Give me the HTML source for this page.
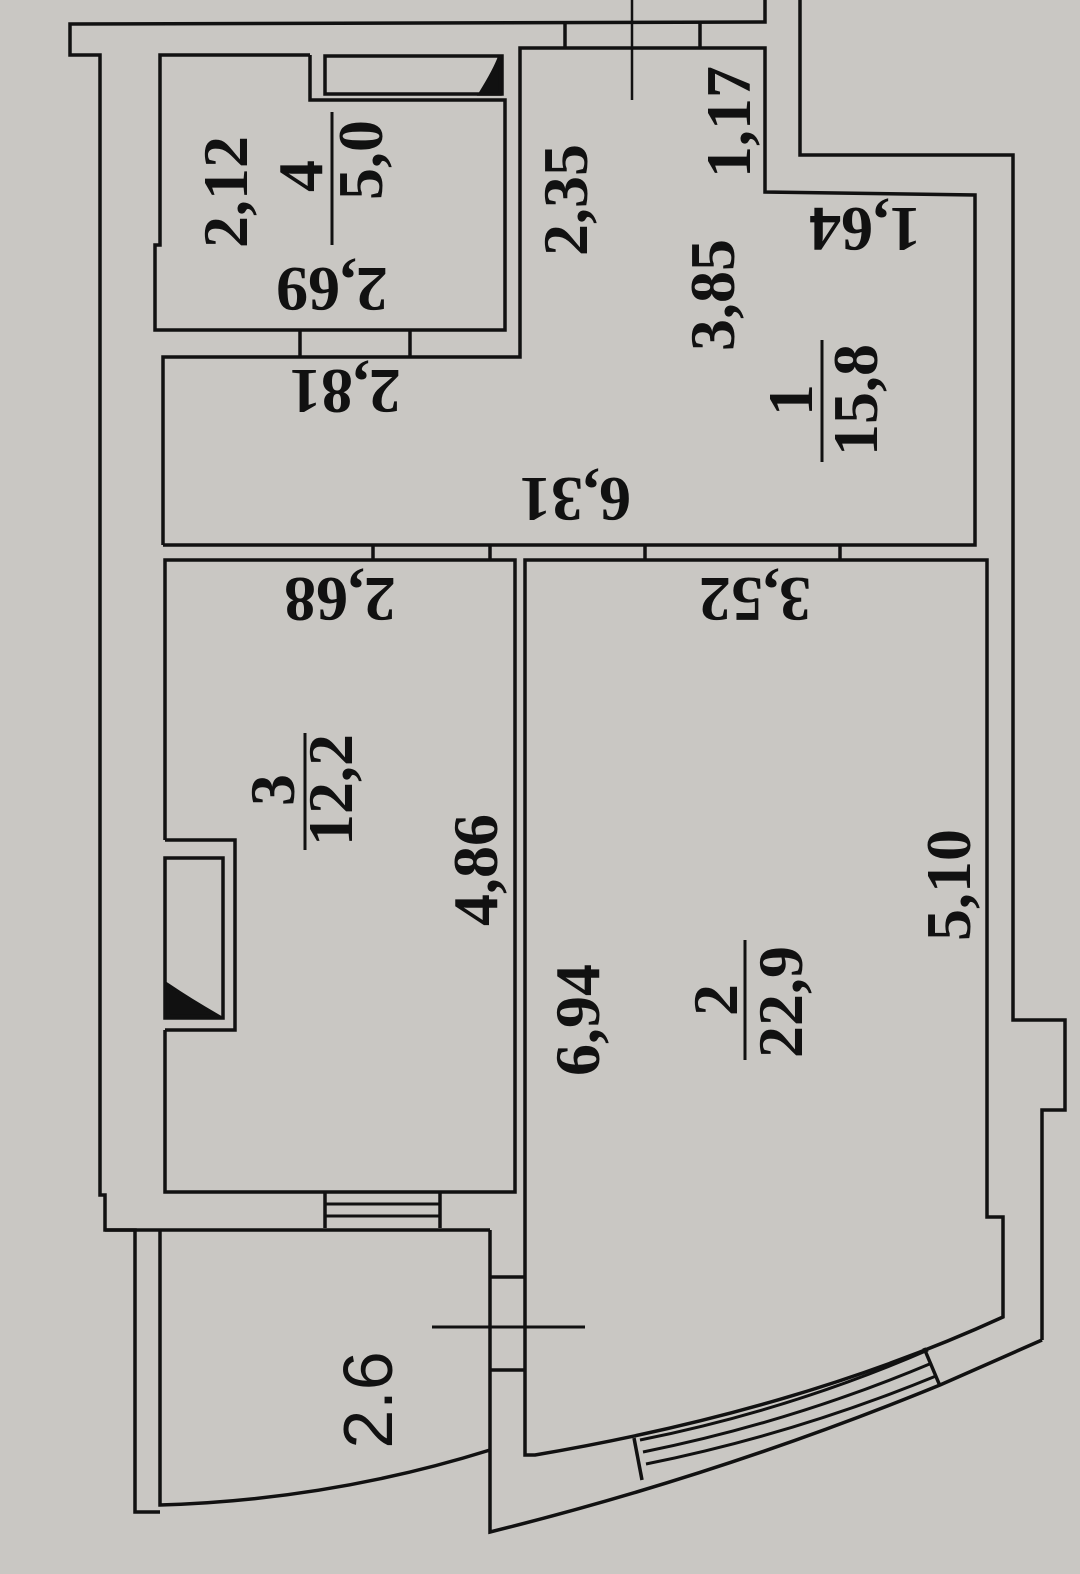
<!DOCTYPE html>
<html><head><meta charset="utf-8"><style>
html,body{margin:0;padding:0;background:#c9c7c3;}
svg{display:block}
text{font-family:"Liberation Serif",serif;font-weight:bold;fill:#111;font-size:64px}
</style></head><body>
<svg width="1080" height="1574" viewBox="0 0 1080 1574">
<rect width="1080" height="1574" fill="#c9c7c3"/>
<g fill="none" stroke="#111" stroke-width="3.5" stroke-linejoin="miter">
<polyline points="765,0 765,22 70,24 70,55 100,55 100,1195 105,1195 105,1230 135,1230 135,1512 160,1512"/>
<polyline points="310,55 160,55 160,245 155,245 155,330 505,330 505,100 310,100 310,55"/>
<rect x="325" y="56" width="177" height="38"/>
<path d="M480,94 Q495,70 500,56 L500,94 Z" fill="#111"/>
<polyline points="163,545 163,357 520,357 520,48 765,48 765,192 975,195 975,545 163,545"/>
<line x1="565" y1="22" x2="565" y2="48"/><line x1="700" y1="22" x2="700" y2="48"/>
<line x1="632" y1="0" x2="632" y2="100" stroke-width="2.5"/>
<line x1="300" y1="330" x2="300" y2="357"/><line x1="410" y1="330" x2="410" y2="357"/>
<polyline points="800,0 800,155 1013,155 1013,1020 1065,1020 1065,1110 1042,1110 1042,1340"/>
<path d="M1042,1340 L940,1385 Q720,1475 490,1532 L490,1230"/>
<line x1="373" y1="545" x2="373" y2="560"/><line x1="490" y1="545" x2="490" y2="560"/>
<line x1="645" y1="545" x2="645" y2="560"/><line x1="840" y1="545" x2="840" y2="560"/>
<polyline points="165,840 165,560 515,560 515,1192 165,1192 165,1030"/>
<polyline points="165,840 235,840 235,1030 165,1030"/>
<rect x="165" y="858" width="58" height="160"/>
<path d="M168,1016 L168,985 Q190,1000 218,1016 Z" fill="#111"/>
<line x1="325" y1="1192" x2="325" y2="1228"/><line x1="440" y1="1192" x2="440" y2="1228"/>
<line x1="325" y1="1204" x2="440" y2="1204" stroke-width="3"/><line x1="325" y1="1216" x2="440" y2="1216" stroke-width="3"/>
<polyline points="105,1230 490,1230"/>
<path d="M160,1230 L160,1505 Q330,1500 490,1450"/>
<path d="M525,1455 L525,560 L987,560 L987,1217 L1003,1217 L1003,1317 Q800,1410 535,1455 Z"/>
<line x1="490" y1="1277" x2="525" y2="1277"/><line x1="490" y1="1370" x2="525" y2="1370"/>
<line x1="432" y1="1327" x2="585" y2="1327" stroke-width="3"/>
<path d="M640,1440 Q790,1410 928,1350" stroke-width="3"/>
<path d="M643,1452 Q792,1422 932,1363" stroke-width="3"/>
<path d="M646,1464 Q795,1434 936,1376" stroke-width="3"/>
<line x1="634" y1="1438" x2="642" y2="1480"/><line x1="924" y1="1348" x2="940" y2="1386"/>
</g>
<g>
<text transform="translate(247,192) rotate(-90)" text-anchor="middle">2,12</text>
<text transform="translate(322,176) rotate(-90)" text-anchor="middle">4</text>
<line x1="332" y1="112" x2="332" y2="245" stroke="#111" stroke-width="3"/>
<text transform="translate(382,160) rotate(-90)" text-anchor="middle">5,0</text>
<text transform="translate(587,200) rotate(-90)" text-anchor="middle">2,35</text>
<text transform="translate(750,122) rotate(-90)" text-anchor="middle">1,17</text>
<text transform="translate(734,295) rotate(-90)" text-anchor="middle">3,85</text>
<text transform="translate(812,400) rotate(-90)" text-anchor="middle">1</text>
<line x1="822" y1="340" x2="822" y2="462" stroke="#111" stroke-width="3"/>
<text transform="translate(877,400) rotate(-90)" text-anchor="middle">15,8</text>
<text transform="translate(294,790) rotate(-90)" text-anchor="middle">3</text>
<line x1="305" y1="733" x2="305" y2="850" stroke="#111" stroke-width="3"/>
<text transform="translate(352,790) rotate(-90)" text-anchor="middle">12,2</text>
<text transform="translate(497,870) rotate(-90)" text-anchor="middle">4,86</text>
<text transform="translate(599,1020) rotate(-90)" text-anchor="middle">6,94</text>
<text transform="translate(737,1000) rotate(-90)" text-anchor="middle">2</text>
<line x1="745" y1="940" x2="745" y2="1060" stroke="#111" stroke-width="3"/>
<text transform="translate(802,1002) rotate(-90)" text-anchor="middle">22,9</text>
<text transform="translate(970,885) rotate(-90)" text-anchor="middle">5,10</text>
<text transform="translate(392,1400) rotate(-90)" text-anchor="middle" style="font-family:'Liberation Sans',sans-serif;font-weight:normal;font-size:70px">2.6</text>
</g>
<g>
<text transform="translate(332,268) rotate(180)" text-anchor="middle">2,69</text>
<text transform="translate(345,370) rotate(180)" text-anchor="middle">2,81</text>
<text transform="translate(575,478) rotate(180)" text-anchor="middle">6,31</text>
<text transform="translate(340,578) rotate(180)" text-anchor="middle">2,68</text>
<text transform="translate(755,578) rotate(180)" text-anchor="middle">3,52</text>
<text transform="translate(865,208) rotate(180)" text-anchor="middle">1,64</text>
</g>
</svg>
</body></html>
